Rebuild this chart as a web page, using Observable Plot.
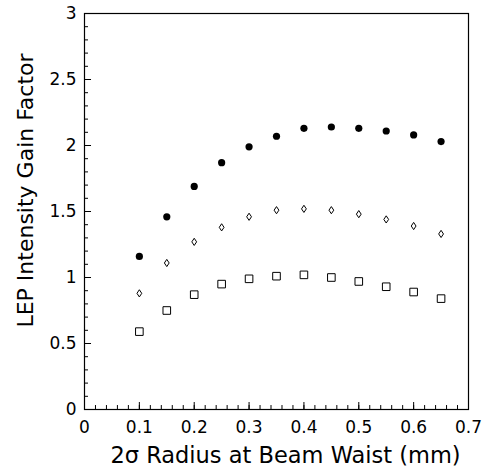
<!DOCTYPE html>
<html>
<head>
<meta charset="utf-8">
<script src="https://cdn.jsdelivr.net/npm/d3@7"></script>
<script src="https://cdn.jsdelivr.net/npm/@observablehq/plot@0.6"></script>
<style>
  html, body { margin: 0; padding: 0; background: #fff; }
</style>
</head>
<body>
<div id="chart"></div>
<script>
const radius = [0.10, 0.15, 0.20, 0.25, 0.30, 0.35, 0.40, 0.45, 0.50, 0.55, 0.60, 0.65];
const gainFilled = [1.16, 1.46, 1.69, 1.87, 1.99, 2.07, 2.13, 2.14, 2.13, 2.11, 2.08, 2.03];
const gainDiamond = [0.88, 1.11, 1.27, 1.38, 1.46, 1.51, 1.52, 1.51, 1.48, 1.44, 1.39, 1.33];
const gainSquare = [0.59, 0.75, 0.87, 0.95, 0.99, 1.01, 1.02, 1.00, 0.97, 0.93, 0.89, 0.84];
const xMajorTicks = [0, 0.1, 0.2, 0.3, 0.4, 0.5, 0.6, 0.7];
const yMajorTicks = [0, 0.5, 1, 1.5, 2, 2.5, 3];
const xTitle = "2σ Radius at Beam Waist (mm)";
const yTitle = "LEP Intensity Gain Factor";

const xMinorTicks = d3.range(0, 36).map(i => +(i * 0.02).toFixed(2));
const yMinorTicks = d3.range(0, 31).map(i => +(i * 0.1).toFixed(1));

const filled = radius.map((r, i) => ({r, g: gainFilled[i]}));
const diam = radius.map((r, i) => ({r, g: gainDiamond[i]}));
const squ = radius.map((r, i) => ({r, g: gainSquare[i]}));

const diamondSymbol = {draw(ctx) { ctx.moveTo(0, -3.6); ctx.lineTo(2.4, 0); ctx.lineTo(0, 3.6); ctx.lineTo(-2.4, 0); ctx.closePath(); }};
const squareSymbol = {draw(ctx) { ctx.moveTo(-3.8, -3.8); ctx.lineTo(3.8, -3.8); ctx.lineTo(3.8, 3.8); ctx.lineTo(-3.8, 3.8); ctx.closePath(); }};
const circleSymbol = {draw(ctx) { ctx.moveTo(3.6, 0); ctx.arc(0, 0, 3.6, 0, 2 * Math.PI); }};

const chart = Plot.plot({
  width: 483,
  height: 470,
  marginLeft: 84,
  marginRight: 15,
  marginTop: 13,
  marginBottom: 61,
  style: {fontFamily: "DejaVu Sans, sans-serif"},
  x: {domain: [0, 0.7], label: null},
  y: {domain: [0, 3], label: null},
  marks: [
    Plot.frame({strokeWidth: 1.2}),
    Plot.ruleX(xMinorTicks, {x: d => d, y1: () => 0, y2: () => 0.03, stroke: "#000", strokeWidth: 1}),
    Plot.ruleX(xMajorTicks, {x: d => d, y1: () => 0, y2: () => 0.053, stroke: "#000", strokeWidth: 1}),
    Plot.axisX({ticks: xMajorTicks, tickSize: 0, tickPadding: 11, fontSize: 17, tickFormat: d => String(+d.toFixed(1)), label: null}),
    Plot.ruleY(yMinorTicks, {y: d => d, x1: () => 0, x2: () => 0.0073, stroke: "#000", strokeWidth: 1}),
    Plot.ruleY(yMajorTicks, {y: d => d, x1: () => 0, x2: () => 0.0128, stroke: "#000", strokeWidth: 1}),
    Plot.axisY({ticks: yMajorTicks, tickSize: 0, tickPadding: 8, fontSize: 17, tickFormat: d => String(+d.toFixed(1)), label: null}),
    Plot.text([xTitle], {frameAnchor: "bottom", dy: 46, dx: 9, fontSize: 22.5, textAnchor: "middle", lineAnchor: "middle"}),
    Plot.text([yTitle], {frameAnchor: "left", dx: -59, dy: -21, rotate: -90, fontSize: 22, textAnchor: "middle", lineAnchor: "middle"}),
    Plot.dot(filled, {x: "r", y: "g", symbol: circleSymbol, fill: "currentColor", stroke: "none"}),
    Plot.dot(diam, {x: "r", y: "g", symbol: diamondSymbol, fill: "none", stroke: "currentColor", strokeWidth: 1}),
    Plot.dot(squ, {x: "r", y: "g", symbol: squareSymbol, fill: "none", stroke: "currentColor", strokeWidth: 1})
  ]
});
document.getElementById("chart").appendChild(chart);
</script>
</body>
</html>
